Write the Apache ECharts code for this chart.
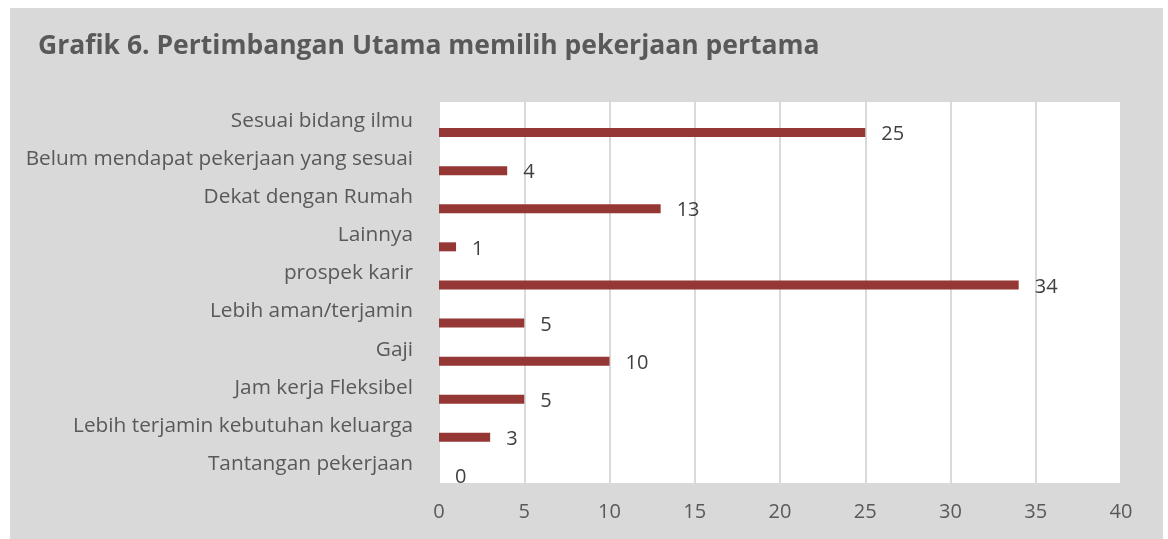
<!DOCTYPE html>
<html>
<head>
<meta charset="utf-8">
<script src="https://cdn.jsdelivr.net/npm/echarts@6/dist/echarts.min.js"></script>
<style>
  html, body { margin: 0; padding: 0; background: #fff; }
  #chart { position: absolute; left: 10px; top: 8px; width: 1153px; height: 531px; }
</style>
</head>
<body>
<div id="chart"></div>
<script>
let categories = [
    'Sesuai bidang ilmu',
    'Belum mendapat pekerjaan yang sesuai',
    'Dekat dengan Rumah',
    'Lainnya',
    'prospek karir',
    'Lebih aman/terjamin',
    'Gaji',
    'Jam kerja Fleksibel',
    'Lebih terjamin kebutuhan keluarga',
    'Tantangan pekerjaan'
];
let values = [25, 4, 13, 1, 34, 5, 10, 5, 3, 0];
let xTicks = { min: 0, max: 40, interval: 5 };

let font = '"Open Sans", sans-serif';

let option = {
    backgroundColor: '#d9d9d9',
    textStyle: { fontFamily: font },
    title: {
        text: 'Grafik 6. Pertimbangan Utama memilih pekerjaan pertama',
        left: 23,
        top: 20,
        textStyle: {
            fontFamily: font,
            fontSize: 26.5,
            fontWeight: 'bold',
            color: '#595959'
        }
    },
    grid: {
        left: 429,
        top: 94,
        right: 42,
        bottom: 56,
        show: true,
        backgroundColor: '#ffffff',
        borderWidth: 0
    },
    xAxis: {
        type: 'value',
        min: xTicks.min,
        max: xTicks.max,
        interval: xTicks.interval,
        axisLine: { show: false },
        axisTick: { show: false },
        axisLabel: {
            margin: 19,
            fontSize: 20,
            color: '#595959',
            fontFamily: font
        },
        splitLine: {
            lineStyle: { color: '#d9d9d9', width: 2 }
        }
    },
    yAxis: {
        type: 'category',
        inverse: true,
        data: categories,
        axisLine: { show: false },
        axisTick: { show: false },
        axisLabel: {
            margin: 26,
            fontSize: 20.8,
            color: '#595959',
            fontFamily: font
        }
    },
    series: [
        {
            // empty series so the bars sit low in each band, as in the original
            name: 'blank',
            type: 'bar',
            data: [],
            barWidth: 9,
            silent: true
        },
        {
            name: 'Jumlah',
            type: 'bar',
            data: values,
            barWidth: 9,
            barGap: '155%',
            itemStyle: { color: '#953735' },
            label: {
                show: true,
                position: 'right',
                distance: 16,
                offset: [0, 2],
                fontSize: 20,
                color: '#404040',
                fontFamily: font
            }
        }
    ]
};

let chart = echarts.init(document.getElementById('chart'));
chart.setOption(option);
</script>
</body>
</html>
